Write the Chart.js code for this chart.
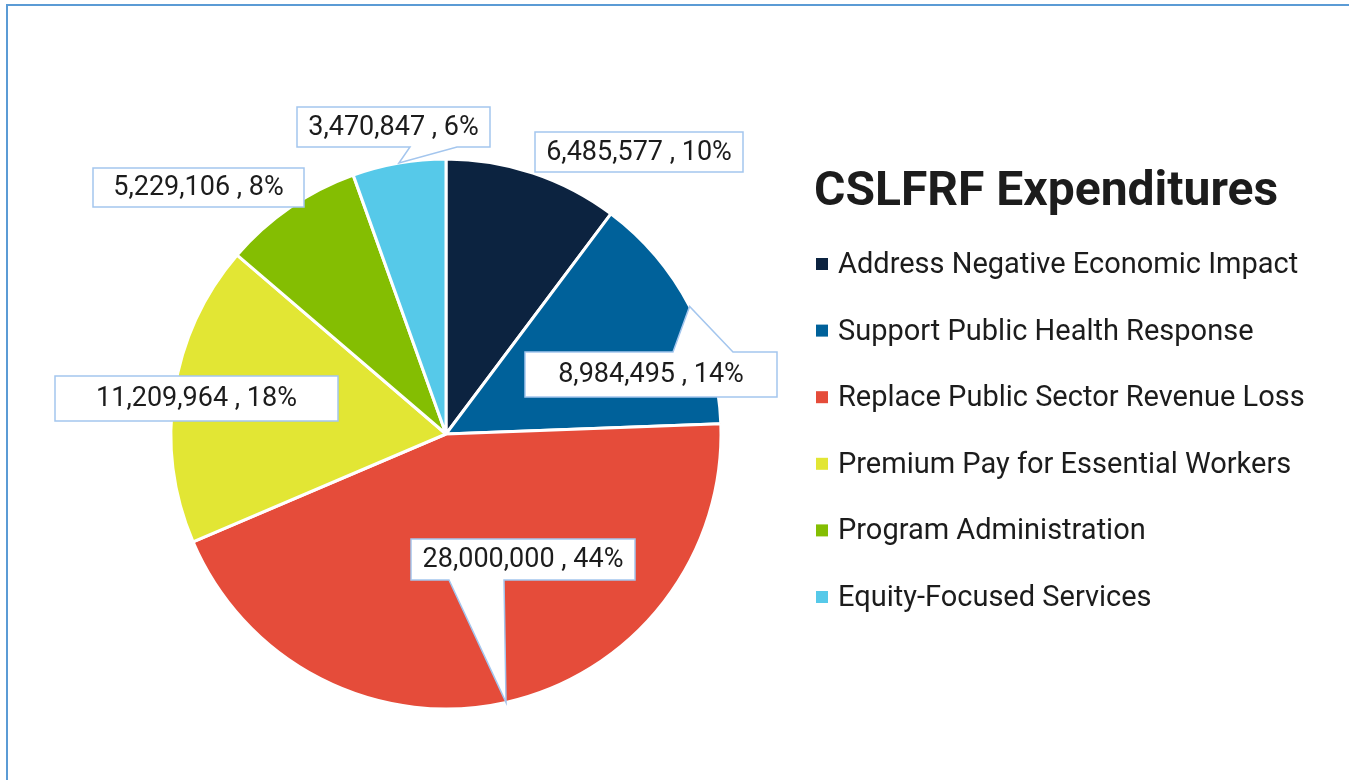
<!DOCTYPE html>
<html lang="en">
<head>
    <meta charset="UTF-8">
    <title>CSLFRF Expenditures</title>
    <script src="https://cdn.jsdelivr.net/npm/chart.js"></script>
    <style>
        html, body {
            margin: 0;
            padding: 0;
            background: #fff;
            overflow: hidden;
        }
        .frame {
            position: absolute;
            left: 6px;
            top: 4px;
            width: 2000px;
            height: 2000px;
            border: 2px solid #5b9bd5;
        }
        canvas {
            position: absolute;
            left: 0;
            top: 0;
        }
    </style>
</head>
<body>
    <div class="frame"></div>
    <canvas id="expChart" width="1349" height="780"></canvas>

    <script>
        // data
        const categories = [
            'Address Negative Economic Impact',
            'Support Public Health Response',
            'Replace Public Sector Revenue Loss',
            'Premium Pay for Essential Workers',
            'Program Administration',
            'Equity-Focused Services'
        ];
        const expenditures = [6485577, 8984495, 28000000, 11209964, 5229106, 3470847];
        const percentLabels = ['10%', '14%', '44%', '18%', '8%', '6%'];
        const sliceColors = ['#0c2340', '#00619a', '#e54c3a', '#e2e634', '#84be02', '#56c9e9'];
        const chartTitle = 'CSLFRF Expenditures';

        // callout boxes, relative to the pie centre: [dx, dy, w, h]
        const calloutBoxes = [
            [89, -302, 208, 40],
            [79, -82, 252, 45],
            [-35, 105, 224, 41],
            [-391, -58, 283, 45],
            [-353, -266, 211, 39],
            [-149, -327, 193, 40]
        ];
        // pointer base on box edge, offsets from box left (null = no pointer)
        const pointerBases = [null, [148, 208], [38, 93], null, null, [113, 160]];

        const calloutPlugin = {
            id: 'callouts',
            afterDatasetsDraw(chart) {
                const ctx = chart.ctx;
                const arcs = chart.getDatasetMeta(0).data;
                ctx.save();
                ctx.font = '27px Roboto';
                ctx.textAlign = 'center';
                ctx.textBaseline = 'middle';
                arcs.forEach((arc, i) => {
                    const cx = arc.x, cy = arc.y;
                    const [dx, dy, w, h] = calloutBoxes[i];
                    const L = cx + dx, T = cy + dy, R = L + w, B = T + h;
                    const mid = (arc.startAngle + arc.endAngle) / 2;
                    const tx = cx + Math.cos(mid) * arc.outerRadius;
                    const ty = cy + Math.sin(mid) * arc.outerRadius;
                    const base = pointerBases[i];

                    ctx.beginPath();
                    if (base && ty < T) {
                        ctx.moveTo(L, T);
                        ctx.lineTo(L + base[0], T);
                        ctx.lineTo(tx, ty);
                        ctx.lineTo(L + base[1], T);
                        ctx.lineTo(R, T);
                        ctx.lineTo(R, B);
                        ctx.lineTo(L, B);
                    } else if (base) {
                        ctx.moveTo(L, T);
                        ctx.lineTo(R, T);
                        ctx.lineTo(R, B);
                        ctx.lineTo(L + base[1], B);
                        ctx.lineTo(tx, ty);
                        ctx.lineTo(L + base[0], B);
                        ctx.lineTo(L, B);
                    } else {
                        ctx.rect(L, T, w, h);
                    }
                    ctx.closePath();
                    ctx.fillStyle = '#ffffff';
                    ctx.fill();
                    ctx.lineWidth = 1.5;
                    ctx.strokeStyle = '#a4c6ee';
                    ctx.stroke();

                    const value = chart.data.datasets[0].data[i];
                    ctx.fillStyle = '#1c1c1c';
                    ctx.fillText(value.toLocaleString('en-US') + ' , ' + percentLabels[i], (L + R) / 2, (T + B) / 2 + 1);
                });
                ctx.restore();
            }
        };

        // legend drawn to the right of the pie
        const sideLegendPlugin = {
            id: 'sideLegend',
            afterDraw(chart) {
                const ctx = chart.ctx;
                const ds = chart.data.datasets[0];
                ctx.save();
                ctx.fillStyle = '#1c1c1c';
                ctx.textAlign = 'left';
                ctx.textBaseline = 'alphabetic';
                ctx.font = 'bold 48px Roboto';
                ctx.fillText(chartTitle, 814, 205);
                ctx.font = '29px Roboto';
                chart.data.labels.forEach((label, i) => {
                    const baseY = 273 + i * 66.6;
                    ctx.fillStyle = ds.backgroundColor[i];
                    ctx.fillRect(816, baseY - 15, 12, 12);
                    ctx.fillStyle = '#1c1c1c';
                    ctx.fillText(label, 838, baseY);
                });
                ctx.restore();
            }
        };

        document.addEventListener('DOMContentLoaded', () => {
            const ctx = document.getElementById('expChart').getContext('2d');
            new Chart(ctx, {
                type: 'pie',
                data: {
                    labels: categories,
                    datasets: [{
                        data: expenditures,
                        backgroundColor: sliceColors,
                        borderColor: '#ffffff',
                        borderWidth: 3,
                        radius: 275
                    }]
                },
                options: {
                    responsive: false,
                    animation: false,
                    events: [],
                    layout: {
                        padding: { left: 100, right: 557, top: 100, bottom: 12 }
                    },
                    plugins: {
                        legend: { display: false },
                        tooltip: { enabled: false },
                        title: { display: false }
                    }
                },
                plugins: [calloutPlugin, sideLegendPlugin]
            });
        });
    </script>
</body>
</html>
